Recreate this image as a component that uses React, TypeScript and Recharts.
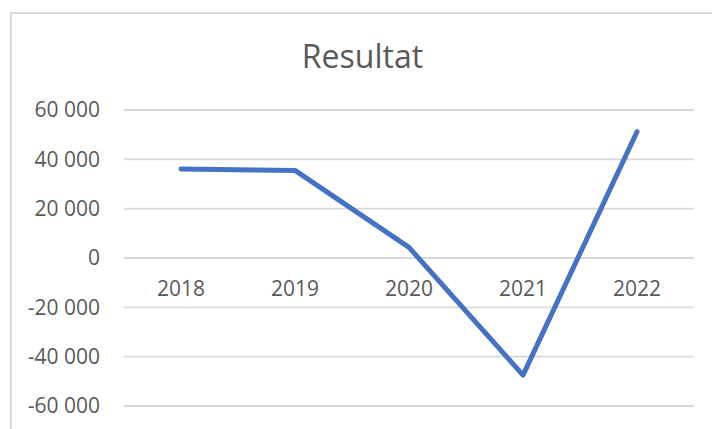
import React from 'react';
import {
  LineChart,
  Line,
  XAxis,
  YAxis,
  CartesianGrid,
  ReferenceDot,
} from 'recharts';

const years = ['2018', '2019', '2020', '2021', '2022'];
const resultat = [36100, 35500, 4300, -47500, 51200];
const yTicks = [-60000, -40000, -20000, 0, 20000, 40000, 60000];
const title = 'Resultat';

const data = years.map((year, i) => ({ year, resultat: resultat[i] }));

const FONT = '"Open Sans", "Noto Sans", sans-serif';
const TEXT = '#595959';
const GRID = '#d9d9d9';

// 60000 -> "60 000", -20000 -> "-20 000"
function formatThousands(value: number) {
  const sign = value < 0 ? '-' : '';
  const digits = String(Math.abs(value));
  return sign + digits.replace(/\B(?=(\d{3})+(?!\d))/g, ' ');
}

export default function App() {
  return (
    <div
      style={{
        position: 'fixed',
        left: 0,
        top: 0,
        width: 712,
        height: 429,
        overflow: 'hidden',
        background: '#fff',
        fontFamily: FONT,
      }}
    >
      {/* chart frame, cropped on the right and bottom like the reference */}
      <div
        style={{
          position: 'absolute',
          left: 10,
          top: 12,
          width: 740,
          height: 460,
          border: `2px solid ${GRID}`,
          boxSizing: 'border-box',
        }}
      />
      <div
        style={{
          position: 'absolute',
          left: 10,
          top: 40,
          width: 705,
          textAlign: 'center',
          fontSize: 32,
          lineHeight: '32px',
          color: TEXT,
        }}
      >
        {title}
      </div>
      <div style={{ position: 'absolute', left: 0, top: 0 }}>
        <LineChart
          width={712}
          height={429}
          data={data}
          margin={{ top: 110, right: 18, bottom: 23, left: 0 }}
        >
          <CartesianGrid vertical={false} stroke={GRID} strokeWidth={1.8} />
          <XAxis dataKey="year" scale="band" hide />
          <YAxis
            width={124}
            domain={[-60000, 60000]}
            ticks={yTicks}
            tickFormatter={formatThousands}
            axisLine={false}
            tickLine={false}
            tickSize={0}
            tickMargin={24}
            tick={{ fill: TEXT, fontSize: 21, fontFamily: FONT }}
          />
          {years.map((year) => (
            <ReferenceDot
              key={year}
              x={year}
              y={0}
              r={0}
              fill="none"
              stroke="none"
              label={{
                value: year,
                position: 'bottom',
                offset: 23,
                fill: TEXT,
                fontSize: 21,
                fontFamily: FONT,
              }}
            />
          ))}
          <Line
            type="linear"
            dataKey="resultat"
            stroke="#4472c4"
            strokeWidth={5}
            strokeLinecap="round"
            strokeLinejoin="round"
            dot={false}
            activeDot={false}
            isAnimationActive={false}
          />
        </LineChart>
      </div>
    </div>
  );
}
